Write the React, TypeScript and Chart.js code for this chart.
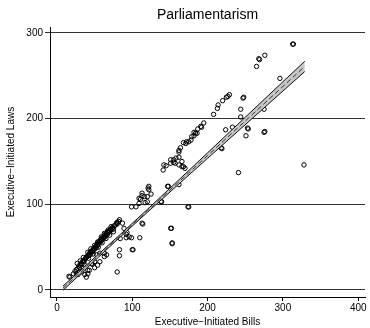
import { useEffect, useRef } from "react";
import { Chart, registerables } from "chart.js";

Chart.register(...registerables);

const chartTitle = "Parliamentarism";
const xAxisTitle = "Executive\u2212Initiated Bills";
const yAxisTitle = "Executive\u2212Initiated Laws";

const xTicks = [0, 100, 200, 300, 400];
const yTicks = [0, 100, 200, 300];

// [executive-initiated bills, executive-initiated laws]
const observations: [number, number][] = [
  // low-volume cluster
  [16, 16], [17, 15], [22, 19], [24, 22], [26, 24], [26, 19], [28, 25], [28, 18], [29, 28], [31, 29],
  [32, 31], [33, 30], [33, 21], [34, 33], [35, 34], [36, 33], [37, 36], [37, 18], [38, 37], [39, 38],
  [39, 15], [40, 39], [41, 40], [41, 19], [41, 23], [42, 40], [43, 42], [43, 23], [44, 44], [44, 41],
  [45, 45], [46, 44], [46, 31], [47, 46], [47, 30], [48, 47], [48, 45], [49, 49], [50, 48], [50, 26],
  [50, 33], [51, 50], [52, 51], [52, 49], [53, 53], [53, 41], [54, 52], [54, 29], [55, 54], [55, 56],
  [56, 55], [57, 57], [57, 33], [57, 43], [58, 56], [58, 59], [59, 58], [60, 60], [61, 59], [61, 62],
  [62, 61], [63, 63], [63, 39], [63, 43], [64, 62], [64, 65], [65, 64], [66, 66], [66, 41], [67, 65],
  [67, 68], [68, 67], [69, 69], [70, 68], [71, 71], [72, 70], [73, 72], [74, 73], [75, 71], [76, 75],
  [78, 76], [79, 78], [80, 77], [27, 31], [31, 34], [35, 38], [41, 44], [45, 48], [50, 52], [54, 56],
  [59, 62], [63, 66], [68, 70], [72, 74], [30, 26], [36, 30], [42, 37], [48, 42], [55, 50], [60, 55],
  [65, 60], [70, 64], [75, 68],
  // middle range
  [80, 79], [82, 80], [83, 82], [87, 78], [89, 72], [93, 67], [92, 61], [84, 60], [96, 62], [83, 47],
  [83, 40], [80, 21], [100, 47], [101, 47], [99, 61], [110, 61], [92, 65], [114, 77], [113, 78], [99, 97],
  [105, 97], [109, 101], [109, 107], [113, 110], [113, 113], [116, 109], [111, 106], [117, 102], [120, 103], [120, 109],
  [122, 121], [121, 119], [122, 117], [125, 112], [138, 103], [139, 103], [147, 121], [148, 121], [151, 72], [152, 72],
  [153, 54], [153, 55], [162, 123], [174, 97], [175, 97],
  // high-volume systems
  [141, 140], [142, 146], [145, 145], [151, 148], [151, 152], [155, 149], [155, 152], [158, 154], [157, 148], [162, 155],
  [162, 161], [162, 146], [164, 166], [162, 163], [166, 150], [166, 144], [168, 144], [170, 142], [168, 172], [171, 171],
  [172, 173], [175, 173], [178, 175], [179, 179], [182, 180], [182, 184], [184, 183], [186, 183], [187, 188], [191, 191],
  [192, 190], [195, 195], [208, 205], [213, 212], [214, 216], [220, 221], [225, 225], [227, 226], [229, 228], [218, 166],
  [219, 165], [224, 187], [233, 190], [241, 137], [244, 211], [244, 202], [247, 224], [248, 225], [251, 180], [253, 189],
  [254, 188], [265, 261], [268, 270], [269, 269], [275, 211], [275, 184], [276, 185], [276, 274], [296, 247], [313, 287],
  [314, 287], [328, 146],
];

// Linear fit with 95% confidence band
const fitX = [8, 40, 80, 120, 160, 200, 240, 280, 329];
const fitY = [2.0, 27.8, 60.1, 92.3, 124.6, 156.9, 189.2, 221.5, 261.0];
const ciLow = [-0.5, 25.8, 58.6, 90.6, 122.2, 153.7, 185.1, 216.5, 255.0];
const ciHigh = [4.5, 29.8, 61.6, 94.0, 127.0, 160.1, 193.3, 226.5, 267.0];

const FONT = '"Liberation Sans", Arial, Helvetica, sans-serif';

const plotTitle = {
  id: "plotTitle",
  afterDraw(chart: Chart) {
    const { ctx, chartArea } = chart;
    ctx.save();
    ctx.font = `14px ${FONT}`;
    ctx.fillStyle = "#000";
    ctx.textAlign = "center";
    ctx.textBaseline = "middle";
    ctx.fillText(chartTitle, (chartArea.left + chartArea.right) / 2, 15);
    ctx.restore();
  },
};

export default function App() {
  const canvasRef = useRef<HTMLCanvasElement | null>(null);

  useEffect(() => {
    const canvas = canvasRef.current;
    if (!canvas) return;
    const toPts = (xs: number[], ys: number[]) => xs.map((x, i) => ({ x, y: ys[i] }));

    const chart = new Chart(canvas, {
      type: "scatter",
      data: {
        datasets: [
          {
            type: "line",
            data: toPts(fitX, fitY),
            borderColor: "#333",
            borderWidth: 1,
            borderDash: [5, 3],
            pointRadius: 0,
            fill: false,
          },
          {
            type: "line",
            data: toPts(fitX, ciLow),
            borderColor: "#111",
            borderWidth: 1,
            pointRadius: 0,
            fill: false,
          },
          {
            type: "line",
            data: toPts(fitX, ciHigh),
            borderColor: "#111",
            borderWidth: 1,
            pointRadius: 0,
            backgroundColor: "#c6c6c6",
            fill: "-1",
          },
          {
            type: "scatter",
            data: observations.map(([x, y]) => ({ x, y })),
            pointStyle: "circle",
            pointRadius: 2.2,
            borderWidth: 1,
            borderColor: "#000",
            backgroundColor: "rgba(0,0,0,0)",
          },
        ],
      },
      options: {
        responsive: false,
        animation: false,
        layout: { padding: { top: 27, left: 0, right: 0, bottom: 0 } },
        plugins: {
          legend: { display: false },
          title: { display: false },
          tooltip: { enabled: false },
        },
        scales: {
          x: {
            type: "linear",
            min: -9.2,
            max: 409,
            afterBuildTicks: (scale: any) => {
              scale.ticks = xTicks.map((v) => ({ value: v }));
            },
            afterFit: (scale: any) => {
              scale.height = 31;
            },
            border: { display: true, color: "#000", width: 1 },
            grid: { drawOnChartArea: false, drawTicks: true, tickLength: 4, color: "#000" },
            ticks: { color: "#000", font: { family: FONT, size: 10 }, padding: 1, maxRotation: 0 },
            title: {
              display: true,
              text: xAxisTitle,
              color: "#000",
              font: { family: FONT, size: 10 },
              padding: { top: 0, bottom: 0 },
            },
          },
          y: {
            type: "linear",
            min: -8.2,
            max: 307,
            afterBuildTicks: (scale: any) => {
              scale.ticks = yTicks.map((v) => ({ value: v }));
            },
            afterFit: (scale: any) => {
              scale.width = 50;
            },
            border: { display: true, color: "#000", width: 1 },
            grid: { drawOnChartArea: true, drawTicks: true, tickLength: 5, color: "#333", lineWidth: 1 },
            ticks: { color: "#000", font: { family: FONT, size: 10 }, padding: 2 },
            title: {
              display: true,
              text: yAxisTitle,
              color: "#000",
              font: { family: FONT, size: 10 },
              padding: { top: 5, bottom: 0 },
            },
          },
        },
      },
      plugins: [plotTitle],
    });

    return () => chart.destroy();
  }, []);

  return (
    <div style={{ position: "absolute", left: 0, top: 0, width: 370, height: 328, background: "#fff" }}>
      <canvas ref={canvasRef} width={370} height={328} />
    </div>
  );
}
